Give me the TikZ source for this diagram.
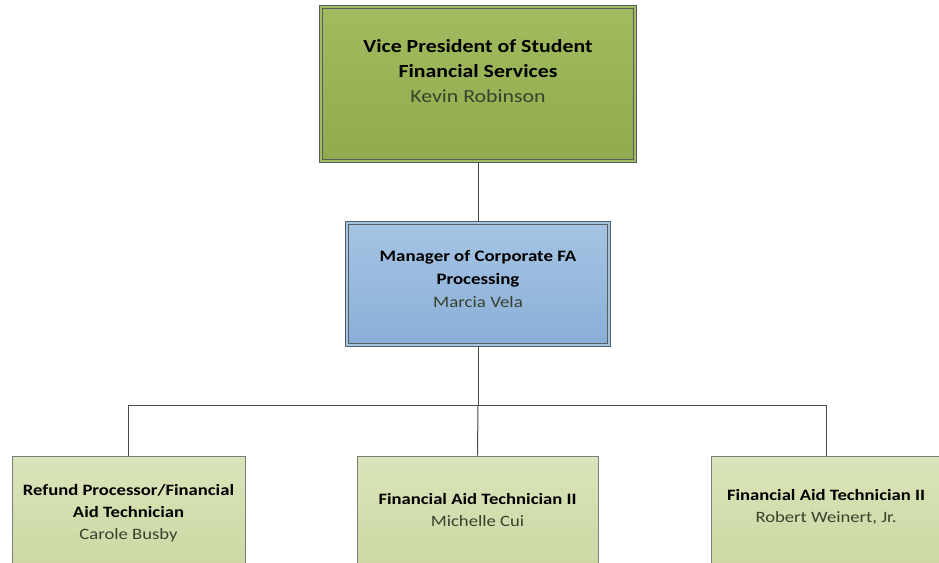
\documentclass[tikz,border=0pt]{standalone}
\usepackage{fontspec}
\setmainfont{Carlito}[FakeStretch=1.18]
\definecolor{bordc}{RGB}{85,95,95}
\definecolor{namec}{RGB}{55,65,45}
\definecolor{vpA}{RGB}{162,187,95}
\definecolor{vpB}{RGB}{145,170,78}
\definecolor{mgA}{RGB}{165,196,228}
\definecolor{mgB}{RGB}{138,175,215}
\definecolor{stA}{RGB}{218,228,185}
\definecolor{stB}{RGB}{200,212,158}
\tikzset{
  box/.style={rectangle, inner sep=0pt, line width=1pt, draw=bordc},
  dbox/.style={box, line width=1.1pt, double distance=1.6pt},
  sbox/.style={box, draw=bordc!80, top color=stA, bottom color=stB, minimum height=144pt},
  conn/.style={draw=bordc!80!black, line width=1pt},
  lbl/.style={align=center},
}
\begin{document}
\begin{tikzpicture}[x=1pt,y=-1pt]
\useasboundingbox (0,0) rectangle (939,562);
\clip (0,0) rectangle (939,562);
% boxes
\node[dbox, double=vpA, top color=vpA, bottom color=vpB, minimum width=314pt, minimum height=154pt] (vp) at (478,84) {};
\node[dbox, double=mgA, top color=mgA, bottom color=mgB, minimum width=262pt, minimum height=122pt] (mgr) at (478,284) {};
\node[sbox, minimum width=233pt] (b1) at (128.5,528) {};
\node[sbox, minimum width=241pt] (b2) at (477.5,528) {};
\node[sbox, minimum width=230pt] (b3) at (826,528) {};
% texts
\node[lbl, font=\fontsize{18.5}{25}\selectfont] (vpt) at (478,71)
  {\textbf{Vice President of Student}\\ \textbf{Financial Services}\\ \textcolor{namec}{Kevin Robinson}};
\node[lbl, font=\fontsize{16}{23}\selectfont] (mgt) at (478,279)
  {\textbf{Manager of Corporate FA}\\ \textbf{Processing}\\ \textcolor{namec}{Marcia Vela}};
\node[lbl, font=\fontsize{15.8}{22}\selectfont] (b1t) at (128.5,513)
  {\textbf{Refund Processor/Financial}\\ \textbf{Aid Technician}\\ \textcolor{namec}{Carole Busby}};
\node[lbl, font=\fontsize{15.8}{22}\selectfont] (b2t) at (477.5,510)
  {\textbf{Financial Aid Technician II}\\ \textcolor{namec}{Michelle Cui}};
\node[lbl, font=\fontsize{15.8}{22}\selectfont] (b3t) at (826,506.5)
  {\textbf{Financial Aid Technician II}\\ \textcolor{namec}{Robert Weinert, Jr.}};
% connectors
\coordinate (hub) at (478,405);
\draw[conn] (vp.south) -- (mgr.north);
\draw[conn] (mgr.south) -- (hub);
\draw[conn] (hub) -| (b1.north);
\draw[conn] (hub) -| (b3.north);
\draw[conn] (hub) -- (b2.north);
\end{tikzpicture}
\end{document}
